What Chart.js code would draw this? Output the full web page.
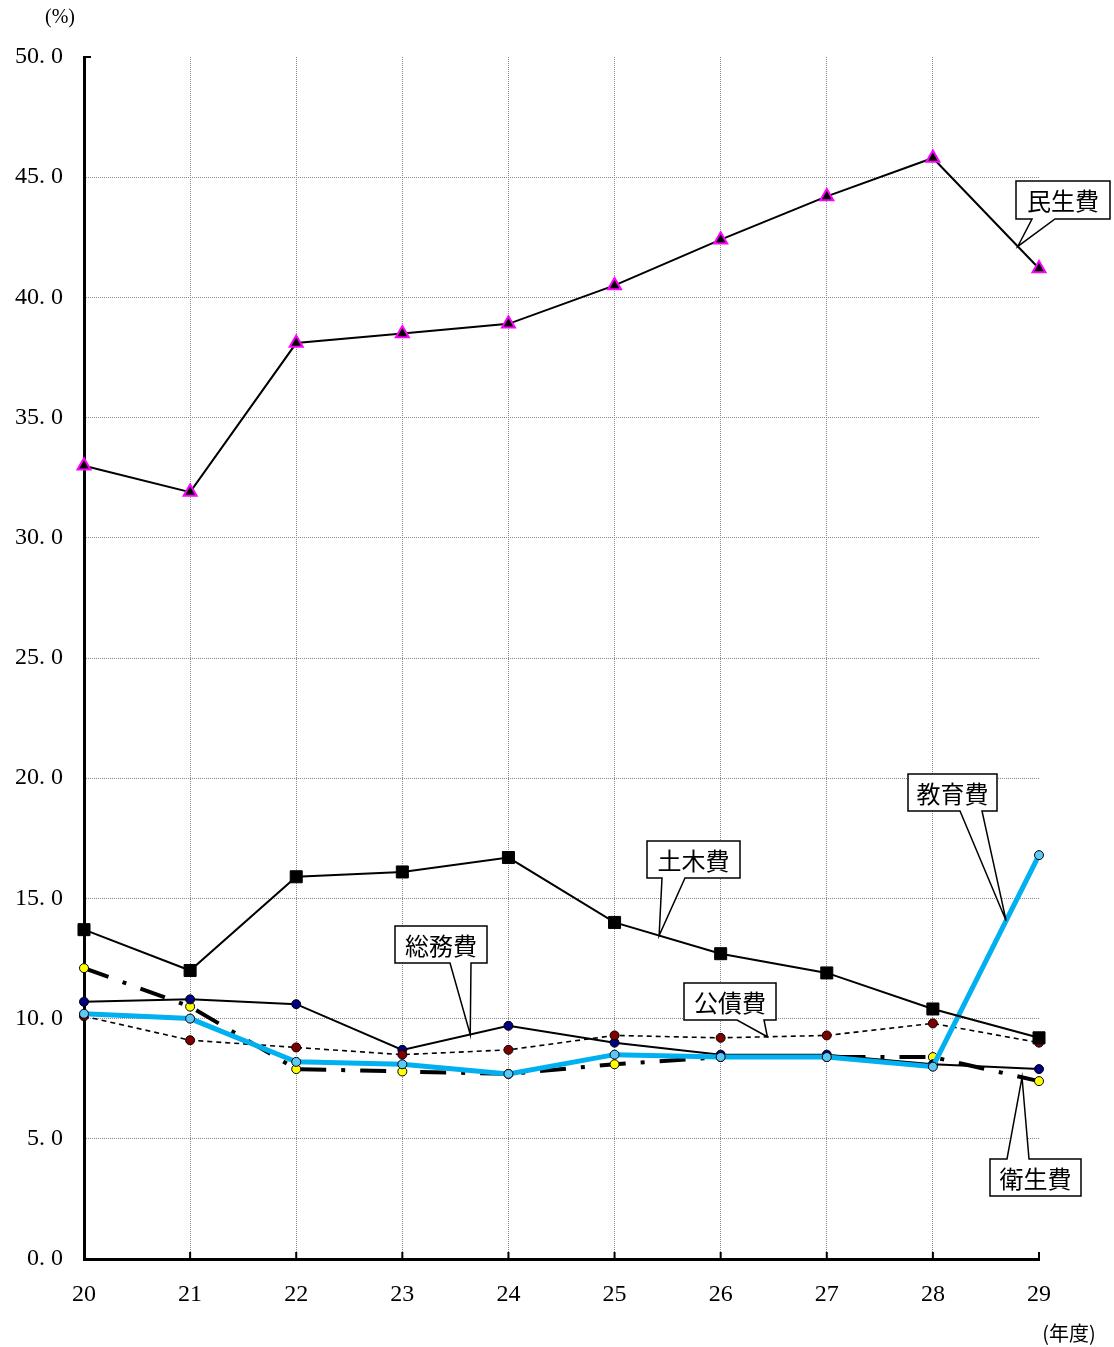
<!DOCTYPE html>
<html>
<head>
<meta charset="utf-8">
<script src="https://cdn.jsdelivr.net/npm/chart.js@4/dist/chart.umd.min.js"></script>
<style>
  html, body { margin: 0; padding: 0; background: #fff; }
  #wrap { width: 1114px; height: 1347px; }
</style>
</head>
<body>
<div id="wrap"><canvas id="c" width="1114" height="1347"></canvas></div>
<script>
// Fiscal years (平成) on the horizontal axis
const years = ['20', '21', '22', '23', '24', '25', '26', '27', '28', '29'];

// Share of expenditure by purpose (%)
const welfare   = [33.0, 31.9, 38.1, 38.5, 38.9, 40.5, 42.4, 44.2, 45.8, 41.2]; // 民生費
const civilEng  = [13.7, 12.0, 15.9, 16.1, 16.7, 14.0, 12.7, 11.9, 10.4, 9.2];  // 土木費
const general   = [10.7, 10.8, 10.6, 8.7, 9.7, 9.0, 8.5, 8.5, 8.1, 7.9];        // 総務費
const debt      = [10.1, 9.1, 8.8, 8.5, 8.7, 9.3, 9.2, 9.3, 9.8, 9.0];          // 公債費
const education = [10.2, 10.0, 8.2, 8.1, 7.7, 8.5, 8.4, 8.4, 8.0, 16.8];        // 教育費
const health    = [12.1, 10.5, 7.9, 7.8, 7.7, 8.1, 8.4, 8.4, 8.4, 7.4];         // 衛生費

const seriesNames = ['民生費', '土木費', '総務費', '公債費', '教育費', '衛生費'];
const yTicks = [0, 5, 10, 15, 20, 25, 30, 35, 40, 45, 50];

const CJK = '"Noto Sans CJK JP", "Noto Sans", sans-serif';
const NUM = '"Liberation Serif", "DejaVu Serif", serif';

// Callout boxes: which series/segment the pointer touches, plus box geometry
const callouts = [
  { series: 0, seg: 8, frac: 0.80, box: [1016, 181, 94, 38], base: [1032, 1055], side: 'bottom' },
  { series: 4, seg: 8, frac: 0.69, box: [908, 774, 89, 37],  base: [960, 982],   side: 'bottom' },
  { series: 1, seg: 5, frac: 0.42, box: [647, 841, 93, 37],  base: [662, 685],   side: 'bottom' },
  { series: 2, seg: 3, frac: 0.64, box: [395, 926, 92, 37],  base: [450, 471],   side: 'bottom' },
  { series: 3, seg: 6, frac: 0.44, box: [684, 983, 92, 37],  base: [737, 764],   side: 'bottom' },
  { series: 5, seg: 8, frac: 0.84, box: [990, 1159, 91, 37], base: [1007, 1029], side: 'top' }
];

const calloutPlugin = {
  id: 'callouts',
  afterDatasetsDraw(chart) {
    const { ctx, scales: { x, y } } = chart;
    ctx.save();
    callouts.forEach(c => {
      const data = chart.data.datasets[c.series].data;
      const x0 = x.getPixelForValue(c.seg), x1 = x.getPixelForValue(c.seg + 1);
      const v = data[c.seg] + c.frac * (data[c.seg + 1] - data[c.seg]);
      const tx = x0 + c.frac * (x1 - x0);
      const ty = y.getPixelForValue(v);
      const [bx, by, bw, bh] = c.box;
      ctx.beginPath();
      if (c.side === 'bottom') {
        ctx.moveTo(bx, by);
        ctx.lineTo(bx + bw, by);
        ctx.lineTo(bx + bw, by + bh);
        ctx.lineTo(c.base[1], by + bh);
        ctx.lineTo(tx, ty);
        ctx.lineTo(c.base[0], by + bh);
        ctx.lineTo(bx, by + bh);
      } else {
        ctx.moveTo(bx, by);
        ctx.lineTo(c.base[0], by);
        ctx.lineTo(tx, ty);
        ctx.lineTo(c.base[1], by);
        ctx.lineTo(bx + bw, by);
        ctx.lineTo(bx + bw, by + bh);
        ctx.lineTo(bx, by + bh);
      }
      ctx.closePath();
      ctx.fillStyle = '#fff';
      ctx.fill();
      ctx.lineWidth = 1.5;
      ctx.strokeStyle = '#000';
      ctx.lineJoin = 'miter';
      ctx.stroke();
      ctx.fillStyle = '#000';
      ctx.font = '24px ' + CJK;
      ctx.textAlign = 'center';
      ctx.textBaseline = 'middle';
      ctx.fillText(seriesNames[c.series], bx + bw / 2, by + bh / 2 + 1);
    });
    ctx.restore();
  }
};

// Unit captions and small inward tick marks on the axes
const decorPlugin = {
  id: 'decor',
  afterDraw(chart) {
    const { ctx, chartArea: a, scales: { x, y } } = chart;
    ctx.save();
    ctx.strokeStyle = '#000';
    ctx.lineWidth = 2;
    ctx.beginPath();
    years.forEach((_, i) => {
      const px = x.getPixelForValue(i);
      ctx.moveTo(px, a.bottom);
      ctx.lineTo(px, a.bottom - 7);
    });
    const top = y.getPixelForValue(y.max);
    ctx.moveTo(a.left, top);
    ctx.lineTo(a.left + 7, top);
    ctx.stroke();

    ctx.fillStyle = '#000';
    ctx.font = '20px ' + NUM;
    ctx.textAlign = 'center';
    ctx.textBaseline = 'middle';
    ctx.fillText('(%)', 60, 18);
    ctx.font = '20px ' + CJK;
    ctx.fillText('(年度)', 1069, 1333);
    ctx.restore();
  }
};

const pt = (fill, r) => ({
  pointRadius: r, pointHoverRadius: r, pointBackgroundColor: fill,
  pointBorderColor: '#000', pointBorderWidth: 1
});

const datasets = [
  { label: seriesNames[0], data: welfare, borderColor: '#000', borderWidth: 2,
    pointStyle: 'triangle', pointRadius: 7.5, pointBackgroundColor: '#000',
    pointBorderColor: '#ff00ff', pointBorderWidth: 2, order: 0 },
  { label: seriesNames[1], data: civilEng, borderColor: '#000', borderWidth: 2,
    pointStyle: 'rect', pointRadius: 8.5, pointBackgroundColor: '#000',
    pointBorderColor: '#000', pointBorderWidth: 1, order: 1 },
  { label: seriesNames[2], data: general, borderColor: '#000', borderWidth: 2,
    ...pt('#000080', 4.5), order: 4 },
  { label: seriesNames[3], data: debt, borderColor: '#000', borderWidth: 1.6,
    borderDash: [5, 4], ...pt('#800000', 4.5), order: 3 },
  { label: seriesNames[4], data: education, borderColor: '#00b0f0', borderWidth: 5,
    ...pt('#5bc8f5', 4.5), order: 2 },
  { label: seriesNames[5], data: health, borderColor: '#000', borderWidth: 4,
    borderDash: [26, 15, 4, 15], ...pt('#ffff00', 4.5), order: 5 }
];

new Chart(document.getElementById('c'), {
  type: 'line',
  data: { labels: years, datasets },
  options: {
    responsive: false,
    devicePixelRatio: 1,
    animation: false,
    events: [],
    layout: { padding: { top: 57, right: 75, bottom: 0, left: 0 } },
    elements: { line: { tension: 0, fill: false, borderCapStyle: 'butt' } },
    plugins: { legend: { display: false }, tooltip: { enabled: false } },
    scales: {
      x: {
        type: 'category',
        offset: false,
        afterFit(s) { s.height = 88; },
        grid: {
          drawTicks: false,
          color: ctx => (ctx.index === 0 || ctx.index === years.length - 1) ? 'rgba(0,0,0,0)' : '#8a8a8a',
          lineWidth: 1
        },
        border: { display: true, color: '#000', width: 3, dash: [1, 1] },
        ticks: {
          padding: 21, color: '#000', maxRotation: 0,
          font: { family: NUM, size: 24 }
        }
      },
      y: {
        min: 0, max: 50,
        afterFit(s) { s.width = 84; },
        afterBuildTicks(s) { s.ticks = yTicks.map(v => ({ value: v })); },
        grid: {
          drawTicks: false,
          color: ctx => (ctx.tick && (ctx.tick.value === 0 || ctx.tick.value === 50)) ? 'rgba(0,0,0,0)' : '#8a8a8a',
          lineWidth: 1
        },
        border: { display: true, color: '#000', width: 3, dash: [1, 1] },
        ticks: {
          padding: 21, color: '#000',
          font: { family: NUM, size: 24 },
          callback: v => v.toFixed(1).replace('.', '. ')
        }
      }
    }
  },
  plugins: [calloutPlugin, decorPlugin]
});
</script>
</body>
</html>
